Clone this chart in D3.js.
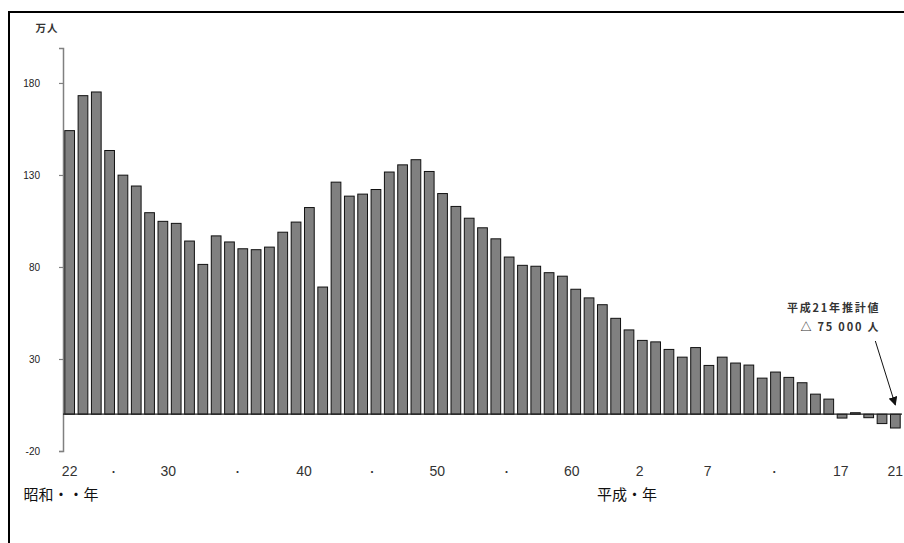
<!DOCTYPE html>
<html>
<head>
<meta charset="utf-8">
<script src="https://cdn.jsdelivr.net/npm/d3@7"></script>
<style>
  html, body { margin: 0; padding: 0; background: #fff; }
  svg { display: block; }
</style>
</head>
<body>
<svg id="chart" width="904" height="543"></svg>
<script>
// Years: 昭和22年 (1947) – 平成21年 (2009)
const years = d3.range(1947, 2010);
// Natural increase, 万人 (ten-thousand persons)
const values = [
  154.1, 173.1, 175.1, 143.3, 129.9, 124.0, 109.5, 104.8, 103.7, 94.1,
  81.4, 96.9, 93.6, 89.9, 89.4, 90.8, 98.9, 104.4, 112.3, 69.1,
  126.1, 118.5, 119.6, 122.1, 131.6, 135.5, 138.3, 131.9, 119.9, 112.9,
  106.5, 101.3, 95.3, 85.4, 80.9, 80.4, 76.9, 75.0, 67.9, 63.2,
  59.5, 52.1, 45.8, 40.1, 39.3, 35.2, 31.0, 36.2, 26.5, 31.0,
  27.8, 26.7, 19.6, 22.9, 20.0, 17.1, 10.9, 8.2, -2.1, 0.8,
  -1.9, -5.1, -7.5
];
const yTicks = [-20, 30, 80, 130, 180];
// x tick labels with their position in category index units
const xTickLabels = ["22", "・", "30", "・", "40", "・", "50", "・", "60", "2", "7", "・", "17", "21"];
const xTickPos    = [0, 3.3, 7.4, 12.6, 17.6, 22.7, 27.6, 32.8, 37.7, 42.8, 47.9, 52.9, 57.9, 62.0];
const eraLabels = ["昭和・・年", "平成・年"];
const eraPos = [-0.65, 41.85];
const unitLabel = "万人";
const noteLines = ["平成21年推計値", "△ 75 000 人"];

const svg = d3.select("#chart");
const jp = "'Noto Sans CJK JP', 'Noto Sans', sans-serif";
const lat = "'Liberation Sans', Arial, sans-serif";

// frame
svg.append("line").attr("x1", 8).attr("x2", 904).attr("y1", 12).attr("y2", 12)
  .attr("stroke", "#000").attr("stroke-width", 2);
svg.append("line").attr("x1", 9).attr("x2", 9).attr("y1", 11).attr("y2", 543)
  .attr("stroke", "#000").attr("stroke-width", 2);

const x = d3.scaleBand().domain(years).range([63, 902]).paddingInner(0.27).paddingOuter(0.135);
const y = d3.scaleLinear().domain([-20, 199]).range([451, 48]);
const idx = i => x(years[0]) + x.bandwidth() / 2 + i * x.step();

// y axis
const yAxis = d3.axisLeft(y).tickValues(yTicks).tickSize(4).tickPadding(19).tickFormat(d3.format("d"));
const gy = svg.append("g").attr("transform", "translate(63,0)").call(yAxis);
gy.select(".domain").attr("stroke", "#808080").attr("stroke-width", 1.5);
gy.selectAll(".tick line").attr("stroke", "#808080").attr("stroke-width", 1.2);
gy.selectAll(".tick text").attr("font-family", lat).attr("font-size", 10)
  .attr("fill", "#222").text(d => d < 0 ? "-" + Math.abs(d) : d);

svg.append("text").attr("x", 47).attr("y", 32).attr("text-anchor", "middle")
  .attr("font-family", jp).attr("font-size", 10.5).attr("font-weight", "bold")
  .attr("letter-spacing", 1)
  .attr("fill", "#333").text(unitLabel);

// bars
svg.append("g").selectAll("rect").data(values).join("rect")
  .attr("x", (d, i) => x(years[i]))
  .attr("width", x.bandwidth())
  .attr("y", d => y(Math.max(0, d)))
  .attr("height", d => Math.max(1, Math.abs(y(d) - y(0))))
  .attr("fill", "#808080")
  .attr("stroke", "#111")
  .attr("stroke-width", 1);

// zero line
svg.append("line").attr("x1", 63).attr("x2", 902).attr("y1", y(0)).attr("y2", y(0))
  .attr("stroke", "#222").attr("stroke-width", 1.2);

// x tick labels
svg.append("g").selectAll("text").data(xTickLabels).join("text")
  .attr("x", (d, i) => idx(xTickPos[i]))
  .attr("y", 476)
  .attr("text-anchor", "middle")
  .attr("font-family", d => d === "・" ? jp : lat)
  .attr("font-size", d => d === "・" ? 10 : 14)
  .attr("fill", "#333")
  .text(d => d);

// era labels
svg.append("g").selectAll("text").data(eraLabels).join("text")
  .attr("x", (d, i) => idx(eraPos[i]))
  .attr("y", 500)
  .attr("text-anchor", "middle")
  .attr("font-family", jp)
  .attr("font-size", 15)
  .attr("fill", "#111")
  .text(d => d);

// annotation
const last = years.length - 1;
svg.append("g").selectAll("text").data(noteLines).join("text")
  .attr("x", idx(last) - 15)
  .attr("y", (d, i) => 312 + i * 19)
  .attr("text-anchor", "end")
  .attr("font-family", jp)
  .attr("font-size", 11)
  .attr("letter-spacing", 1.8)
  .attr("font-weight", "bold")
  .attr("fill", "#333")
  .text(d => d);

svg.append("defs").append("marker").attr("id", "ah")
  .attr("viewBox", "0 0 10 10").attr("refX", 9).attr("refY", 5)
  .attr("markerWidth", 9).attr("markerHeight", 9).attr("orient", "auto")
  .append("path").attr("d", "M0,0 L10,5 L0,10 Z").attr("fill", "#111");
svg.append("line")
  .attr("x1", idx(last) - 20).attr("y1", 341)
  .attr("x2", idx(last)).attr("y2", 405)
  .attr("stroke", "#111").attr("stroke-width", 1)
  .attr("marker-end", "url(#ah)");
</script>
</body>
</html>
